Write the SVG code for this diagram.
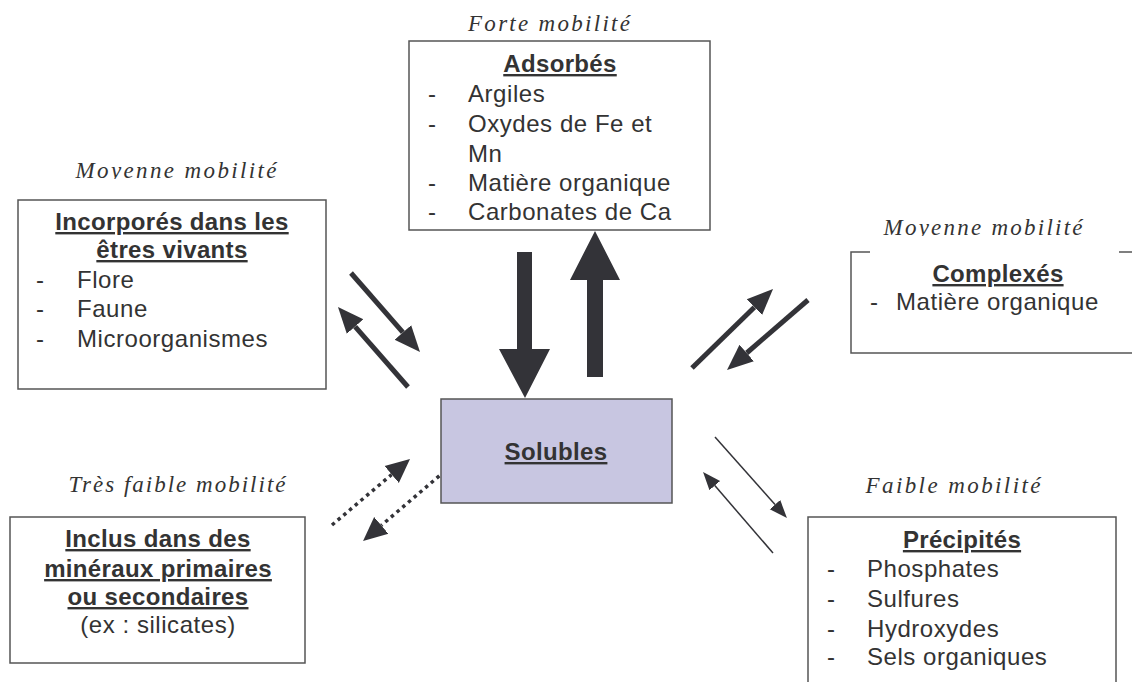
<svg xmlns="http://www.w3.org/2000/svg" width="1132" height="682" viewBox="0 0 1132 682">
<defs>
<style>
.box{fill:#fff;stroke:#555;stroke-width:1.5}
.sol{fill:#c8c6e1;stroke:#555;stroke-width:1.5}
.t{font-family:"Liberation Sans",Arial,sans-serif;font-size:24px;fill:#333;letter-spacing:0.55px}
.b{font-weight:bold;text-decoration:underline;text-anchor:middle;letter-spacing:0.35px}
.c{text-anchor:middle}
.lab{font-family:"Liberation Serif","Times New Roman",serif;font-style:italic;font-size:23px;fill:#333;text-anchor:middle}
.thick{stroke:#333338;stroke-width:5;fill:none}
.thin{stroke:#333338;stroke-width:1.5;fill:none}
.dot{stroke:#333338;stroke-width:3.5;fill:none;stroke-dasharray:3.5 4}
.hd{fill:#333338}
</style>
<marker id="mBig" markerUnits="userSpaceOnUse" markerWidth="30" markerHeight="26" viewBox="0 -13 30 26" refX="0" refY="0" orient="auto"><path class="hd" d="M0,-11 L26,0 L0,11 z"/></marker>
<marker id="mDot" markerUnits="userSpaceOnUse" markerWidth="30" markerHeight="26" viewBox="0 -13 30 26" refX="0" refY="0" orient="auto"><path class="hd" d="M0,-11 L24,0 L0,11 z"/></marker>
<marker id="mThin" markerUnits="userSpaceOnUse" markerWidth="22" markerHeight="18" viewBox="0 -9 22 18" refX="0" refY="0" orient="auto"><path class="hd" d="M0,-7 L18,0 L0,7 z"/></marker>
<clipPath id="clipL"><rect x="0" y="150" width="400" height="29"/></clipPath>
<clipPath id="clipR"><rect x="850" y="205" width="282" height="31"/></clipPath>
</defs>
<rect width="1132" height="682" fill="#fff"/>

<g id="connectors">
<polygon class="hd" points="517,252 532,252 532,349 550,349 525,398 499,349 517,349"/>
<polygon class="hd" points="587,377 603,377 603,280 620,280 595,231 570,280 587,280"/>
<line class="thick" x1="351" y1="273" x2="402.9" y2="332.4" marker-end="url(#mBig)"/>
<line class="thick" x1="408" y1="387" x2="355.1" y2="326.6" marker-end="url(#mBig)"/>
<line class="thick" x1="692" y1="368" x2="754.4" y2="307.2" marker-end="url(#mBig)"/>
<line class="thick" x1="808" y1="300" x2="746.7" y2="353" marker-end="url(#mBig)"/>
<line class="dot" x1="332" y1="525" x2="391.7" y2="474.5" marker-end="url(#mDot)"/>
<line class="dot" x1="445" y1="471" x2="381.3" y2="525.4" marker-end="url(#mDot)"/>
<line class="thin" x1="715" y1="437" x2="775" y2="504.6" marker-end="url(#mThin)"/>
<line class="thin" x1="773" y1="553" x2="714.8" y2="485.6" marker-end="url(#mThin)"/>
</g>

<g id="adsorbes">
<text class="lab" x="549" y="31" textLength="162" lengthAdjust="spacing">Forte mobilité</text>
<rect class="box" x="409" y="41" width="301" height="189"/>
<text class="t b" x="560" y="72">Adsorbés</text>
<text class="t" x="428" y="102">-</text><text class="t" x="468" y="102">Argiles</text>
<text class="t" x="428" y="132">-</text><text class="t" x="468" y="132">Oxydes de Fe et</text>
<text class="t" x="468" y="161.5">Mn</text>
<text class="t" x="428" y="191">-</text><text class="t" x="468" y="191">Matière organique</text>
<text class="t" x="428" y="220">-</text><text class="t" x="468" y="220">Carbonates de Ca</text>
</g>

<g id="incorpores">
<text class="lab" x="176" y="178" textLength="201" lengthAdjust="spacing" clip-path="url(#clipL)">Moyenne mobilité</text>
<rect class="box" x="18" y="200" width="308" height="189"/>
<text class="t b" x="172" y="230">Incorporés dans les</text>
<text class="t b" x="172" y="258">êtres vivants</text>
<text class="t" x="36" y="288">-</text><text class="t" x="77" y="288">Flore</text>
<text class="t" x="36" y="317">-</text><text class="t" x="77" y="317">Faune</text>
<text class="t" x="36" y="347">-</text><text class="t" x="77" y="347">Microorganismes</text>
</g>

<g id="complexes">
<path class="box" d="M870,252 H851 V353 H1140 M1119,252 H1140"/>
<text class="lab" x="983" y="235" textLength="199" lengthAdjust="spacing" clip-path="url(#clipR)">Moyenne mobilité</text>
<text class="t b" x="998" y="282">Complexés</text>
<text class="t" x="870" y="310">-</text><text class="t" x="896" y="310">Matière organique</text>
</g>

<g id="solubles">
<rect class="sol" x="441" y="399" width="231" height="104"/>
<text class="t b" x="556" y="460">Solubles</text>
</g>

<g id="inclus">
<text class="lab" x="177" y="492" textLength="217" lengthAdjust="spacing">Très faible mobilité</text>
<rect class="box" x="10" y="517" width="295" height="146"/>
<text class="t b" x="158" y="547">Inclus dans des</text>
<text class="t b" x="158" y="577">minéraux primaires</text>
<text class="t b" x="158" y="605">ou secondaires</text>
<text class="t c" x="158" y="633">(ex : silicates)</text>
</g>

<g id="precipites">
<text class="lab" x="953" y="493" textLength="175" lengthAdjust="spacing">Faible mobilité</text>
<rect class="box" x="808" y="517" width="308" height="190"/>
<text class="t b" x="962" y="548">Précipités</text>
<text class="t" x="827" y="577">-</text><text class="t" x="867" y="577">Phosphates</text>
<text class="t" x="827" y="607">-</text><text class="t" x="867" y="607">Sulfures</text>
<text class="t" x="827" y="637">-</text><text class="t" x="867" y="637">Hydroxydes</text>
<text class="t" x="827" y="665">-</text><text class="t" x="867" y="665">Sels organiques</text>
</g>
</svg>
